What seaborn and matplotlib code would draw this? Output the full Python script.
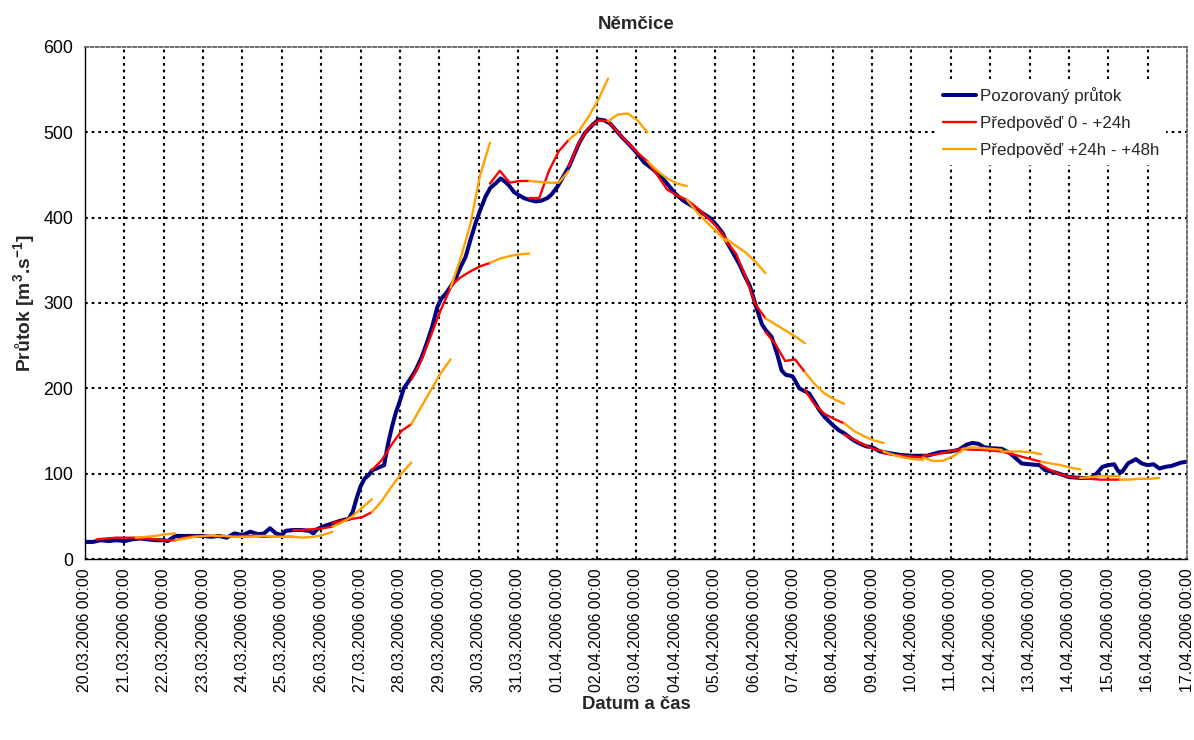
import matplotlib
matplotlib.use("Agg")
import matplotlib.pyplot as plt
from matplotlib.lines import Line2D
import numpy as np
import pandas as pd
import seaborn as sns

# ---------------- data ----------------
# observed discharge: time in days since 20.03.2006 00:00, flow in m3/s
obs_day = [0.0, 0.2, 0.4, 0.6, 0.8, 1.0, 1.2, 1.4, 1.6, 1.8, 2.0, 2.1, 2.2, 2.3,
           2.5, 2.8, 3.0, 3.2, 3.4, 3.6, 3.8, 4.0, 4.2, 4.4, 4.55, 4.7, 4.85,
           5.0, 5.1, 5.3, 5.5, 5.7, 5.8, 5.9, 6.1, 6.3, 6.5, 6.7, 6.8, 6.9,
           7.0, 7.1, 7.2, 7.3, 7.45, 7.6, 7.7, 7.8, 7.9, 8.0, 8.1, 8.25, 8.4,
           8.55, 8.7, 8.82, 8.95, 9.05, 9.17, 9.3, 9.4, 9.55, 9.67, 9.8, 9.92,
           10.05, 10.18, 10.3, 10.43, 10.56, 10.65, 10.77, 10.9, 11.0, 11.15,
           11.28, 11.45, 11.6, 11.75, 11.85, 12.0, 12.15, 12.3, 12.43, 12.55,
           12.7, 12.9, 13.05, 13.2, 13.35, 13.5, 13.65, 13.8, 14.0, 14.2,
           14.45, 14.7, 15.0, 15.2, 15.45, 15.7, 15.9, 16.05, 16.2, 16.3,
           16.45, 16.62, 16.75, 16.9, 17.05, 17.2, 17.3, 17.45, 17.6, 17.7,
           17.8, 17.98, 18.15, 18.4, 18.55, 18.65, 18.8, 19.0, 19.15, 19.3,
           19.5, 19.65, 19.85, 20.0, 20.2, 20.45, 20.7, 21.0, 21.4, 21.7,
           22.0, 22.2, 22.4, 22.55, 22.7, 22.85, 23.0, 23.3, 23.5, 23.65,
           23.8, 24.0, 24.25, 24.4, 24.6, 24.75, 25.0, 25.3, 25.55, 25.7,
           25.85, 26.0, 26.15, 26.25, 26.35, 26.5, 26.7, 26.85, 27.0, 27.15,
           27.3, 27.45, 27.6, 27.85, 28.0]
obs_flow = [20, 20, 22, 21, 22, 21, 23, 24, 23, 22, 22, 21, 24, 27,
            27, 27, 27, 26, 27, 25, 30, 28, 32, 29, 30, 36, 30,
            28, 33, 34, 34, 33, 30, 35, 39, 42, 45, 47, 55, 71,
            85, 94, 98, 104, 107, 110, 135, 155, 172, 185, 200, 210, 221,
            236, 255, 272, 295, 305, 311, 320, 327, 343, 354, 375, 393,
            410, 425, 435, 440, 446, 443, 438, 430, 427, 423,
            421, 419, 420, 423, 427, 436, 448, 460, 474, 487,
            499, 509, 515, 514, 510, 502, 494, 487, 477, 465,
            456, 445, 428, 420, 413, 405, 399, 391, 382, 372,
            360, 346, 333, 319, 296, 275, 268, 260, 238, 221,
            216, 214, 200, 194, 183, 175, 166, 157, 151, 147,
            140, 136, 132, 131, 126, 124, 122, 121, 121, 125,
            126, 128, 134, 136, 135, 131, 130, 129, 124, 118,
            112, 111, 110, 104, 102, 100, 96, 95, 95, 100,
            108, 110, 111, 103, 102, 112, 117, 112, 110, 111,
            106, 108, 109, 113, 114]

# forecasts: issue time (days since 20.03.2006 00:00), lead times in hours
fc_issue_day = [0.29, 1.29, 2.29, 3.29, 4.29, 5.29, 6.29, 7.29, 8.29, 9.29,
                10.29, 11.29, 12.29, 13.29, 14.29, 15.29, 16.29, 17.29, 18.29,
                19.29, 20.29, 21.29, 22.29, 23.29, 24.29, 25.29]
red_lead_h = [0, 6, 12, 18, 24]
orange_lead_h = [24, 30, 36, 42, 48]
red_flow = [
    [23, 24, 25, 25, 25],
    [24, 24, 23, 22, 22],
    [22, 25, 27, 27, 27],
    [27, 27, 26, 27, 27],
    [27, 26, 26, 26, 26],
    [34, 34, 35, 36, 38],
    [42, 45, 47, 49, 55],
    [104, 116, 134, 150, 158],
    [210, 232, 262, 292, 318],
    [320, 330, 337, 343, 347],
    [440, 455, 441, 443, 443],
    [423, 423, 455, 478, 491],
    [460, 487, 505, 514, 513],
    [513, 500, 488, 476, 466],
    [466, 450, 433, 426, 421],
    [421, 412, 401, 390, 375],
    [372, 358, 330, 298, 282],
    [266, 252, 232, 234, 219],
    [198, 181, 170, 164, 159],
    [146, 140, 134, 129, 126],
    [124, 122, 121, 120, 119],
    [121, 122, 124, 127, 129],
    [129, 128, 128, 127, 126],
    [126, 123, 120, 117, 114],
    [110, 104, 99, 96, 95],
    [95, 94, 93, 93, 93],
]
orange_flow = [
    [25, 26, 27, 29, 30],
    [22, 24, 26, 27, 28],
    [27, 27, 26, 26, 26],
    [27, 27, 26, 26, 26],
    [26, 25, 26, 28, 32],
    [38, 43, 50, 60, 70],
    [55, 68, 85, 100, 113],
    [158, 178, 198, 218, 234],
    [318, 352, 392, 450, 488],
    [347, 352, 355, 357, 358],
    [443, 442, 441, 441, 455],
    [491, 501, 518, 538, 563],
    [513, 521, 522, 514, 500],
    [466, 455, 446, 440, 437],
    [421, 407, 395, 384, 372],
    [375, 367, 359, 348, 335],
    [282, 275, 268, 261, 253],
    [219, 205, 194, 187, 182],
    [159, 150, 144, 139, 136],
    [126, 122, 119, 117, 116],
    [119, 115, 115, 120, 127],
    [129, 131, 130, 129, 128],
    [126, 126, 126, 125, 123],
    [114, 112, 110, 107, 105],
    [95, 96, 97, 97, 97],
    [93, 93, 94, 94, 95],
]

tick_dates = pd.date_range("2006-03-20", "2006-04-17", freq="D")
tick_labels = tick_dates.strftime("%d.%m.%Y %H:%M").tolist()
y_ticks = [0, 100, 200, 300, 400, 500, 600]

legend_labels = ["Pozorovaný průtok", "Předpověď 0 - +24h", "Předpověď +24h - +48h"]
title_text = "Němčice"
xlabel_text = "Datum a čas"
ylabel_text = r"Průtok [m$^{\mathbf{3}}$.s$^{\mathbf{-1}}$]"

# ---------------- frames ----------------
obs_df = pd.DataFrame({"day": obs_day, "flow": obs_flow})


def forecast_frame(leads, flows):
    rows = []
    for run, (t0, vals) in enumerate(zip(fc_issue_day, flows)):
        for h, v in zip(leads, vals):
            rows.append((run, t0 + h / 24.0, v))
    return pd.DataFrame(rows, columns=["run", "day", "flow"])


red_df = forecast_frame(red_lead_h, red_flow)
orange_df = forecast_frame(orange_lead_h, orange_flow)

# ---------------- style ----------------
sns.set_style("white")
plt.rcParams["font.family"] = ["Liberation Sans", "DejaVu Sans"]
plt.rcParams["mathtext.fontset"] = "custom"
plt.rcParams["mathtext.rm"] = "Liberation Sans"
plt.rcParams["mathtext.bf"] = "Liberation Sans:bold"

C_OBS = "#000080"
C_RED = "#FF0000"
C_ORA = "#FFA200"

W, H = 1194, 740
fig = plt.figure(figsize=(W / 100, H / 100), dpi=100)
fig.patch.set_facecolor("white")
L, R, T, B = 85, 1187, 47, 559
ax = fig.add_axes([L / W, 1 - B / H, (R - L) / W, (B - T) / H])

sns.lineplot(data=obs_df, x="day", y="flow", color=C_OBS, lw=2.9,
             estimator=None, sort=False, ax=ax, legend=False)
sns.lineplot(data=red_df, x="day", y="flow", units="run", estimator=None,
             color=C_RED, lw=1.7, sort=False, ax=ax, legend=False)
sns.lineplot(data=orange_df, x="day", y="flow", units="run", estimator=None,
             color=C_ORA, lw=1.7, sort=False, ax=ax, legend=False)

ax.set_xlim(0, 28)
ax.set_ylim(0, 600)
ax.set_xticks(np.arange(len(tick_labels)))
ax.set_xticklabels(tick_labels, rotation=90, ha="center", va="top", fontsize=11.4)
ax.set_yticks(y_ticks)
ax.set_yticklabels([str(v) for v in y_ticks], fontsize=12.8)
ax.tick_params(axis="both", direction="out", length=4, width=1, color="black",
               labelcolor="black")
ax.tick_params(axis="y", pad=4.5)
ax.tick_params(axis="x", pad=3)

ax.grid(True, color="black", linestyle=(0, (1.3, 1.9)), linewidth=1.5)
# the plot-area border (top / right) is a finer grey dotted line
ax.yaxis.get_gridlines()[-1].set_visible(False)
ax.xaxis.get_gridlines()[-1].set_visible(False)
for s in ["top", "right"]:
    ax.spines[s].set_visible(True)
    ax.spines[s].set_color("#555555")
    ax.spines[s].set_linewidth(1.2)
    ax.spines[s].set_linestyle((0, (1.8, 1.4)))
for s in ["left", "bottom"]:
    ax.spines[s].set_color("black")
    ax.spines[s].set_linewidth(1.0)

ax.set_title(title_text, fontweight="bold", fontsize=13.4, pad=13)
ax.set_xlabel(xlabel_text, fontweight="bold", fontsize=13.3)
ax.set_ylabel(ylabel_text, fontweight="bold", fontsize=13.9)
ax.xaxis.set_label_coords(0.5, (B - 696) / (B - T))
ax.yaxis.set_label_coords((38 - L) / (R - L), 0.5)

handles = [Line2D([], [], color=C_OBS, lw=2.9),
           Line2D([], [], color=C_RED, lw=1.7),
           Line2D([], [], color=C_ORA, lw=1.7)]
leg = ax.legend(handles, legend_labels, loc="upper right",
                bbox_to_anchor=((1166 - L) / (R - L), (B - 80) / (B - T)),
                borderaxespad=0, frameon=True, fancybox=False, framealpha=1,
                facecolor="white", edgecolor="none", fontsize=12.2,
                handlelength=2.0, handletextpad=0.2, labelspacing=0.72,
                borderpad=0.4)

fig.savefig("out.png", dpi=100, facecolor="white")
